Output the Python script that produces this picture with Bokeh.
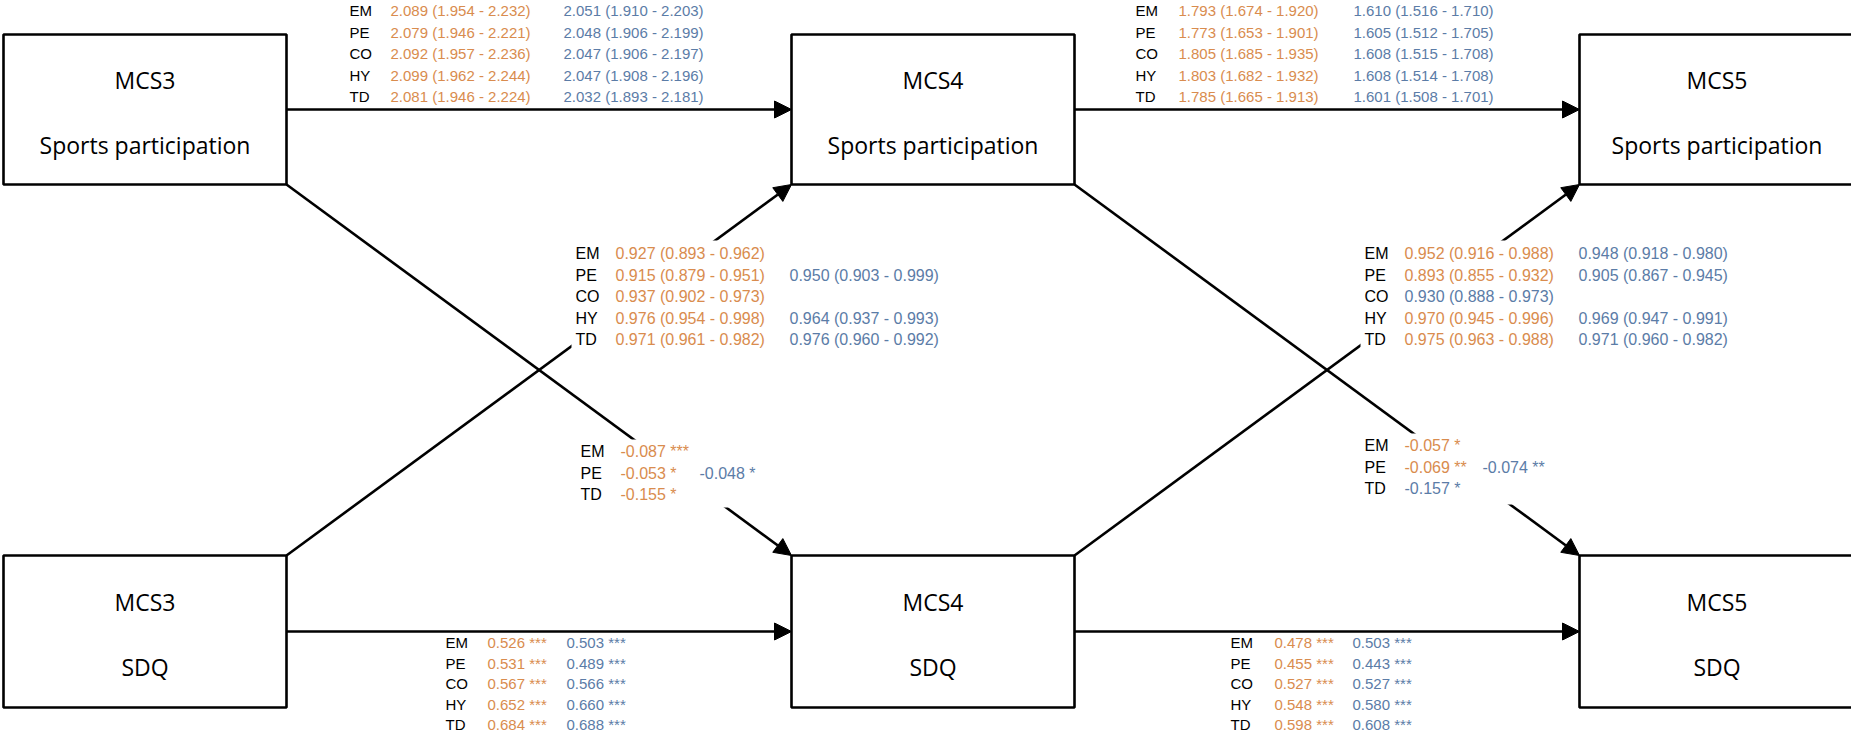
from bokeh.plotting import figure
from bokeh.models import Range1d, Arrow, NormalHead, ColumnDataSource
from bokeh.core.properties import value
from bokeh.embed import file_html
from bokeh.resources import INLINE

# ---------------- data ----------------
box_years = ["MCS3", "MCS4", "MCS5"]
box_measures = ["Sports participation", "SDQ"]

labels5 = ["EM", "PE", "CO", "HY", "TD"]
labels3 = ["EM", "PE", "TD"]

# sports participation MCS3 -> MCS4 (estimate, lower, upper)
sp3_sp4_orange = [(2.089, 1.954, 2.232), (2.079, 1.946, 2.221), (2.092, 1.957, 2.236),
                  (2.099, 1.962, 2.244), (2.081, 1.946, 2.224)]
sp3_sp4_blue = [(2.051, 1.910, 2.203), (2.048, 1.906, 2.199), (2.047, 1.906, 2.197),
                (2.047, 1.908, 2.196), (2.032, 1.893, 2.181)]
# sports participation MCS4 -> MCS5
sp4_sp5_orange = [(1.793, 1.674, 1.920), (1.773, 1.653, 1.901), (1.805, 1.685, 1.935),
                  (1.803, 1.682, 1.932), (1.785, 1.665, 1.913)]
sp4_sp5_blue = [(1.610, 1.516, 1.710), (1.605, 1.512, 1.705), (1.608, 1.515, 1.708),
                (1.608, 1.514, 1.708), (1.601, 1.508, 1.701)]
# SDQ MCS3 -> sports MCS4
sdq3_sp4_orange = [(0.927, 0.893, 0.962), (0.915, 0.879, 0.951), (0.937, 0.902, 0.973),
                   (0.976, 0.954, 0.998), (0.971, 0.961, 0.982)]
sdq3_sp4_blue = [None, (0.950, 0.903, 0.999), None, (0.964, 0.937, 0.993), (0.976, 0.960, 0.992)]
# SDQ MCS4 -> sports MCS5
sdq4_sp5_orange = [(0.952, 0.916, 0.988), (0.893, 0.855, 0.932), None,
                   (0.970, 0.945, 0.996), (0.975, 0.963, 0.988)]
sdq4_sp5_blue = [(0.948, 0.918, 0.980), (0.905, 0.867, 0.945), (0.930, 0.888, 0.973),
                 (0.969, 0.947, 0.991), (0.971, 0.960, 0.982)]
# sports MCS3 -> SDQ MCS4
sp3_sdq4_orange = [-0.087, -0.053, -0.155]
sp3_sdq4_orange_sig = ["***", "*", "*"]
sp3_sdq4_blue = [None, -0.048, None]
sp3_sdq4_blue_sig = [None, "*", None]
# sports MCS4 -> SDQ MCS5
sp4_sdq5_orange = [-0.057, -0.069, None]
sp4_sdq5_orange_sig = ["*", "**", None]
sp4_sdq5_blue = [None, -0.074, -0.157]
sp4_sdq5_blue_sig = [None, "**", "*"]
# SDQ MCS3 -> SDQ MCS4
sdq3_sdq4_orange = [0.526, 0.531, 0.567, 0.652, 0.684]
sdq3_sdq4_blue = [0.503, 0.489, 0.566, 0.660, 0.688]
# SDQ MCS4 -> SDQ MCS5
sdq4_sdq5_orange = [0.478, 0.455, 0.527, 0.548, 0.598]
sdq4_sdq5_blue = [0.503, 0.443, 0.527, 0.580, 0.608]
sig_all = ["***"] * 5

# ---------------- styling / layout ----------------
ORANGE = "#D98C4E"
BLUE = "#5B7CA7"
BLACK = "#000000"
BOX_FONT = "Open Sans"
SMALL_FONT = "Liberation Sans"

W, H = 1851, 733
p = figure(width=W, height=H, x_range=Range1d(8, 8 + W), y_range=Range1d(8 + H, 8),
           output_backend="svg", toolbar_location=None, min_border=0,
           x_axis_location=None, y_axis_location=None)
p.grid.visible = False
p.outline_line_color = None
p.background_fill_color = "white"

box_left = [11, 799, 1587]
box_right = [294, 1082, 1862]
top_y = (42, 192)
bot_y = (563, 715)
top_mid = (top_y[0] + top_y[1]) / 2
bot_mid = (bot_y[0] + bot_y[1]) / 2

LW = 2.6

def arrow(x0, y0, x1, y1):
    a = Arrow(x_start=x0, y_start=y0, x_end=x1, y_end=y1, line_width=LW, line_color=BLACK,
              end=NormalHead(size=17, fill_color=BLACK, line_color=BLACK, line_width=1),
              level="underlay")
    p.add_layout(a)

for i in range(2):
    # horizontal paths
    arrow(box_right[i], top_mid, box_left[i + 1], top_mid)
    arrow(box_right[i], bot_mid, box_left[i + 1], bot_mid)
    # cross paths
    arrow(box_right[i], top_y[1], box_left[i + 1], bot_y[0])
    arrow(box_right[i], bot_y[0], box_left[i + 1], top_y[1])

# white masks behind the cross-path labels
p.quad(left=[579, 1368, 584, 1368], right=[965, 1745, 790, 1570],
       top=[248, 248, 447, 441], bottom=[358, 358, 515, 512],
       fill_color="white", line_color=None)

# boxes
p.quad(left=box_left * 2, right=box_right * 2,
       top=[top_y[0]] * 3 + [bot_y[0]] * 3, bottom=[top_y[1]] * 3 + [bot_y[1]] * 3,
       fill_color="white", line_color=BLACK, line_width=LW)

bx, by, bt = [], [], []
for i, yr in enumerate(box_years):
    cx = (box_left[i] + box_right[i]) / 2
    for mid, meas in ((top_mid, box_measures[0]), (bot_mid, box_measures[1])):
        bx += [cx, cx]
        by += [mid - 30, mid + 35]
        bt += [yr, meas]
p.text(x=bx, y=by, text=bt, text_align="center", text_baseline="middle",
       text_font=value(BOX_FONT), text_font_size="23px", text_color=BLACK)


def fmt_ci(v):
    return f"{v[0]:.3f} ({v[1]:.3f} - {v[2]:.3f})"


def block(labels, orange, blue, fmt, lab_x, c1, c2, y0, size, row=21.5):
    xs, ys, ts, cs = [], [], [], []
    for i, lab in enumerate(labels):
        y = y0 + i * row
        xs.append(lab_x); ys.append(y); ts.append(lab); cs.append(BLACK)
        o, b = orange[i], blue[i]
        if o is not None:
            xs.append(c1); ys.append(y); ts.append(fmt(o)); cs.append(ORANGE)
        if b is not None:
            xs.append(c2 if o is not None else c1); ys.append(y); ts.append(fmt(b)); cs.append(BLUE)
    src = ColumnDataSource(dict(x=xs, y=ys, text=ts, color=cs))
    p.text(x="x", y="y", text="text", text_color="color", source=src,
           text_align="left", text_baseline="middle",
           text_font=value(SMALL_FONT), text_font_size=size)


def coef(vals, sigs):
    return [None if v is None else (v, s) for v, s in zip(vals, sigs)]


def fmt_coef(v):
    return f"{v[0]:.3f} {v[1]}"


block(labels5, sp3_sp4_orange, sp3_sp4_blue, fmt_ci, 357, 398, 571, 18, "15px")
block(labels5, sp4_sp5_orange, sp4_sp5_blue, fmt_ci, 1143, 1186, 1361, 18, "15px")
block(labels5, sdq3_sp4_orange, sdq3_sp4_blue, fmt_ci, 583, 623, 797, 261, "16px")
block(labels5, sdq4_sp5_orange, sdq4_sp5_blue, fmt_ci, 1372, 1412, 1586, 261, "16px")
block(labels3, coef(sp3_sdq4_orange, sp3_sdq4_orange_sig), coef(sp3_sdq4_blue, sp3_sdq4_blue_sig),
      fmt_coef, 588, 628, 707, 459, "16px")
block(labels3, coef(sp4_sdq5_orange, sp4_sdq5_orange_sig), coef(sp4_sdq5_blue, sp4_sdq5_blue_sig),
      fmt_coef, 1372, 1412, 1490, 453, "16px")
block(labels5, coef(sdq3_sdq4_orange, sig_all), coef(sdq3_sdq4_blue, sig_all),
      fmt_coef, 453, 495, 574, 650, "15px", row=20.5)
block(labels5, coef(sdq4_sdq5_orange, sig_all), coef(sdq4_sdq5_blue, sig_all),
      fmt_coef, 1238, 1282, 1360, 650, "15px", row=20.5)

open("out.html", "w").write(file_html(p, INLINE))
